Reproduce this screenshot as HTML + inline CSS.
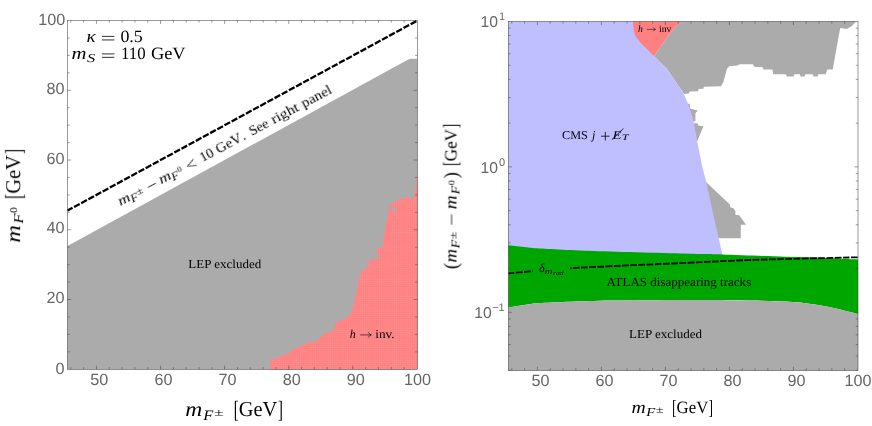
<!DOCTYPE html>
<html><head><meta charset="utf-8"><title>plot</title>
<style>html,body{margin:0;padding:0;background:#fff;}svg{display:block}</style></head>
<body>
<svg width="872" height="426" viewBox="0 0 872 426">
<defs>
<filter id="noaa" x="-5%" y="-5%" width="110%" height="110%"><feOffset dx="0" dy="0"/></filter>
<pattern id="hatch" width="2.13" height="2.13" patternUnits="userSpaceOnUse">
<rect width="2.13" height="2.13" fill="#ff8080"/>
<path d="M0,0H2.13M0,0V2.13" stroke="#ff9696" stroke-width="0.5"/>
</pattern>
</defs>
<rect width="872" height="426" fill="#fff"/>
<polygon fill="#ababab" points="67.5,246.1 408.2,59.4 410.5,58.8 417.3,58.8 417.3,369.3 67.5,369.3"/>
<polygon fill="url(#hatch)" points="270.1,369.3 270.1,359.8 274.4,358.6 278,358.1 282.8,355 288.7,353.8 294.7,348.6 301.9,345.4 307.9,342.3 315.1,341.9 324.7,333.5 334.3,329.9 335,323.9 340.2,320.3 347.4,317.9 352.2,310.7 354.6,301.1 357,289.2 358.5,282 358.7,278.5 362,270.1 364.1,270.8 366.6,268.7 366.9,265.8 371.1,259.5 379.9,258.8 376.1,250.6 383.1,246.1 383.8,236.3 385.2,228 387.3,219.3 389.4,205.2 390.1,204.2 399.5,199.7 402.7,198.3 407.9,196.8 412.1,200.1 414.3,197.6 415.3,189 416.3,180.6 417.3,176 417.3,369.3"/>
<polygon fill="#ababab" points="389.9,204.9 396.2,209 395.8,211.9 392,211"/>
<line x1="67.5" y1="210.6" x2="417.3" y2="20.6" stroke="#000" stroke-width="2.3" stroke-dasharray="6.45 1.7" stroke-dashoffset="0.7"/>
<rect x="67.5" y="20.5" width="349.8" height="348.8" fill="none" stroke="#3c3c3c" stroke-width="0.52"/>
<path d="M96.45,369.3v-3.6M96.45,20.5v3.6M160.55,369.3v-3.6M160.55,20.5v3.6M224.65,369.3v-3.6M224.65,20.5v3.6M288.75,369.3v-3.6M288.75,20.5v3.6M352.85,369.3v-3.6M352.85,20.5v3.6M70.81,369.3v-2.2M70.81,20.5v2.2M83.63,369.3v-2.2M83.63,20.5v2.2M109.27,369.3v-2.2M109.27,20.5v2.2M122.09,369.3v-2.2M122.09,20.5v2.2M134.91,369.3v-2.2M134.91,20.5v2.2M147.73,369.3v-2.2M147.73,20.5v2.2M173.37,369.3v-2.2M173.37,20.5v2.2M186.19,369.3v-2.2M186.19,20.5v2.2M199.01,369.3v-2.2M199.01,20.5v2.2M211.83,369.3v-2.2M211.83,20.5v2.2M237.47,369.3v-2.2M237.47,20.5v2.2M250.29,369.3v-2.2M250.29,20.5v2.2M263.11,369.3v-2.2M263.11,20.5v2.2M275.93,369.3v-2.2M275.93,20.5v2.2M301.57,369.3v-2.2M301.57,20.5v2.2M314.39,369.3v-2.2M314.39,20.5v2.2M327.21,369.3v-2.2M327.21,20.5v2.2M340.03,369.3v-2.2M340.03,20.5v2.2M365.67,369.3v-2.2M365.67,20.5v2.2M378.49,369.3v-2.2M378.49,20.5v2.2M391.31,369.3v-2.2M391.31,20.5v2.2M404.13,369.3v-2.2M404.13,20.5v2.2M67.5,299.54h3.6M417.3,299.54h-3.6M67.5,229.78h3.6M417.3,229.78h-3.6M67.5,160.02h3.6M417.3,160.02h-3.6M67.5,90.26h3.6M417.3,90.26h-3.6M67.5,351.86h2.2M417.3,351.86h-2.2M67.5,334.42h2.2M417.3,334.42h-2.2M67.5,316.98h2.2M417.3,316.98h-2.2M67.5,282.1h2.2M417.3,282.1h-2.2M67.5,264.66h2.2M417.3,264.66h-2.2M67.5,247.22h2.2M417.3,247.22h-2.2M67.5,212.34h2.2M417.3,212.34h-2.2M67.5,194.9h2.2M417.3,194.9h-2.2M67.5,177.46h2.2M417.3,177.46h-2.2M67.5,142.58h2.2M417.3,142.58h-2.2M67.5,125.14h2.2M417.3,125.14h-2.2M67.5,107.7h2.2M417.3,107.7h-2.2M67.5,72.82h2.2M417.3,72.82h-2.2M67.5,55.38h2.2M417.3,55.38h-2.2M67.5,37.94h2.2M417.3,37.94h-2.2" stroke="#3c3c3c" stroke-width="0.5" fill="none"/>
<g filter="url(#noaa)" style="text-rendering:geometricPrecision" font-family="Liberation Sans, sans-serif" font-size="16.2" fill="#666666">
<text x="99.35" y="385.4" text-anchor="middle">50</text>
<text x="163.45" y="385.4" text-anchor="middle">60</text>
<text x="227.55" y="385.4" text-anchor="middle">70</text>
<text x="291.65" y="385.4" text-anchor="middle">80</text>
<text x="355.75" y="385.4" text-anchor="middle">90</text>
<text x="417.5" y="385.4" text-anchor="middle">100</text>
<text x="64.6" y="373.7" text-anchor="end">0</text>
<text x="64.6" y="303.24" text-anchor="end">20</text>
<text x="64.6" y="233.48" text-anchor="end">40</text>
<text x="64.6" y="163.72" text-anchor="end">60</text>
<text x="64.6" y="93.96" text-anchor="end">80</text>
<text x="65.2" y="24.9" text-anchor="end">100</text>
</g>
<polygon fill="#ababab" points="681.2,21.5 674.3,27.9 666.9,37.7 660,47.6 654.1,56.3 667,69 676.4,83.1 684.1,94 688.8,93.5 689.7,91.4 698.2,91.2 698.5,89.1 703.4,88.8 703.8,86.8 721,86.3 723.4,82 726.9,69 729.2,66.2 737.5,65.5 739.8,64.3 752.9,64.3 754.6,67.1 762.3,67.1 763.5,69.5 772.4,69.5 773.3,74.2 785.8,74.2 787,76.5 793.5,76.5 794.5,74.2 799.9,74.2 800.6,76.5 804.6,76.5 805.3,74.2 812.8,74.2 813.5,76.5 817.5,76.5 818.2,74.2 825.7,74.2 827.3,69.5 832.7,69.5 840.2,27.9 846.8,29.1 851.5,26.3 856.2,21.5"/>
<polygon fill="#ababab" points="684,103.8 689.7,103.8 690.1,108.5 697.8,110.4 695.4,113.2 695.4,121.6 690,121"/>
<polygon fill="#ababab" points="692,123.1 697.8,123.5 698.2,125.4 703.4,126.3 697.2,141.3 692,141"/>
<polygon fill="#ababab" points="703,182.3 706.3,182.3 729.8,204.4 730.3,207.3 733.5,208.2 735.4,211 735.4,214.8 739.2,215.3 746.1,224.7 740.8,224.7 740.8,238.2 710,238.2"/>
<polygon fill="#ff8080" points="632,21.5 681.2,21.5 674.3,27.9 666.9,37.7 660,47.6 654.1,56.3 640,50 632,40"/>
<polygon fill="#bfbfff" points="508.4,21.5 633,21.5 633.5,29.1 635.3,35.7 640,42.2 646.6,48.8 654.1,56.3 667,69 676.4,83.1 684.1,94.4 688.8,105.7 693.5,120.7 697.2,141.3 701.9,165 706.4,182.8 713.6,215.7 718.5,237.3 722.3,254.4 722.3,262 508.4,262"/>
<path fill="#00a600" d="M508.4,245.2L535.2,248.3C545,248.77 568.2,250.18 594,251.1C619.8,252.02 668.62,253.25 690,253.8C711.38,254.35 708.3,253.98 722.3,254.4C736.3,254.82 757.55,255.75 774,256.3C790.45,256.85 807,257.18 821,257.7C835,258.22 851.83,259.12 858,259.4L858,314.1C853.78,313.05 840.83,309.53 832.7,307.8C824.57,306.07 817.03,304.73 809.2,303.7C801.37,302.67 795.48,302.13 785.7,301.6C775.92,301.07 766.45,300.75 750.5,300.5C734.55,300.25 716.08,300.03 690,300.1C663.92,300.17 619.8,300.38 594,300.9C568.2,301.42 545,302.82 535.2,303.2L508.4,307.5Z"/>
<path fill="#ababab" d="M858,314.1C853.78,313.05 840.83,309.53 832.7,307.8C824.57,306.07 817.03,304.73 809.2,303.7C801.37,302.67 795.48,302.13 785.7,301.6C775.92,301.07 766.45,300.75 750.5,300.5C734.55,300.25 716.08,300.03 690,300.1C663.92,300.17 619.8,300.38 594,300.9C568.2,301.42 545,302.82 535.2,303.2L508.4,307.5L508.4,370.4L858,370.4Z"/>
<path d="M508.4,273.3C512.08,272.98 519.97,272.27 530.5,271.4C541.03,270.53 545.02,269.55 571.6,268.1C598.18,266.65 660.18,264.05 690,262.7C719.82,261.35 722.5,260.9 750.5,260C778.5,259.1 840.08,257.75 858,257.3" fill="none" stroke="#000" stroke-width="1.8" stroke-dasharray="6.7 1.48" stroke-dashoffset="0.6"/>
<rect x="533" y="262" width="37" height="14" fill="#00a600"/>
<rect x="508.4" y="21.5" width="349.6" height="348.9" fill="none" stroke="#3c3c3c" stroke-width="0.52"/>
<path d="M537.4,370.4v-3.6M537.4,21.5v3.6M601.4,370.4v-3.6M601.4,21.5v3.6M665.4,370.4v-3.6M665.4,21.5v3.6M729.4,370.4v-3.6M729.4,21.5v3.6M793.4,370.4v-3.6M793.4,21.5v3.6M511.8,370.4v-2.2M511.8,21.5v2.2M524.6,370.4v-2.2M524.6,21.5v2.2M550.2,370.4v-2.2M550.2,21.5v2.2M563,370.4v-2.2M563,21.5v2.2M575.8,370.4v-2.2M575.8,21.5v2.2M588.6,370.4v-2.2M588.6,21.5v2.2M614.2,370.4v-2.2M614.2,21.5v2.2M627,370.4v-2.2M627,21.5v2.2M639.8,370.4v-2.2M639.8,21.5v2.2M652.6,370.4v-2.2M652.6,21.5v2.2M678.2,370.4v-2.2M678.2,21.5v2.2M691,370.4v-2.2M691,21.5v2.2M703.8,370.4v-2.2M703.8,21.5v2.2M716.6,370.4v-2.2M716.6,21.5v2.2M742.2,370.4v-2.2M742.2,21.5v2.2M755,370.4v-2.2M755,21.5v2.2M767.8,370.4v-2.2M767.8,21.5v2.2M780.6,370.4v-2.2M780.6,21.5v2.2M806.2,370.4v-2.2M806.2,21.5v2.2M819,370.4v-2.2M819,21.5v2.2M831.8,370.4v-2.2M831.8,21.5v2.2M844.6,370.4v-2.2M844.6,21.5v2.2M508.4,166.9h3.6M858.0,166.9h-3.6M508.4,312.3h3.6M858.0,312.3h-3.6M508.4,123.13h2.2M858.0,123.13h-2.2M508.4,97.53h2.2M858.0,97.53h-2.2M508.4,79.36h2.2M858.0,79.36h-2.2M508.4,65.27h2.2M858.0,65.27h-2.2M508.4,53.76h2.2M858.0,53.76h-2.2M508.4,44.02h2.2M858.0,44.02h-2.2M508.4,35.59h2.2M858.0,35.59h-2.2M508.4,28.15h2.2M858.0,28.15h-2.2M508.4,268.53h2.2M858.0,268.53h-2.2M508.4,242.93h2.2M858.0,242.93h-2.2M508.4,224.76h2.2M858.0,224.76h-2.2M508.4,210.67h2.2M858.0,210.67h-2.2M508.4,199.16h2.2M858.0,199.16h-2.2M508.4,189.42h2.2M858.0,189.42h-2.2M508.4,180.99h2.2M858.0,180.99h-2.2M508.4,173.55h2.2M858.0,173.55h-2.2M508.4,370.16h2.2M858.0,370.16h-2.2M508.4,356.07h2.2M858.0,356.07h-2.2M508.4,344.56h2.2M858.0,344.56h-2.2M508.4,334.82h2.2M858.0,334.82h-2.2M508.4,326.39h2.2M858.0,326.39h-2.2M508.4,318.95h2.2M858.0,318.95h-2.2" stroke="#3c3c3c" stroke-width="0.5" fill="none"/>
<g filter="url(#noaa)" style="text-rendering:geometricPrecision" font-family="Liberation Sans, sans-serif" font-size="16.2" fill="#666666">
<text x="540.4" y="386.2" text-anchor="middle">50</text>
<text x="604.4" y="386.2" text-anchor="middle">60</text>
<text x="668.4" y="386.2" text-anchor="middle">70</text>
<text x="732.4" y="386.2" text-anchor="middle">80</text>
<text x="796.4" y="386.2" text-anchor="middle">90</text>
<text x="857.9" y="386.2" text-anchor="middle">100</text>
<text x="480.6" y="26.8" font-size="15.7">10<tspan font-size="11" dy="-7" dx="0.9">1</tspan></text>
<text x="480.6" y="172.6" font-size="15.7">10<tspan font-size="11" dy="-6.7" dx="0.9">0</tspan></text>
<text x="474.2" y="318" font-size="15.7">10<tspan font-size="11" dy="-6.7" dx="0.5">−1</tspan></text>
</g>
<g filter="url(#noaa)" style="text-rendering:geometricPrecision" font-family="Liberation Serif, serif" fill="#000">
<!-- kappa label -->
<text x="86.6" y="42.1" font-size="17.3" font-style="italic" textLength="9.2" lengthAdjust="spacingAndGlyphs">κ</text>
<path d="M101.9,36.4H114.4M101.9,39.95H114.4M101.9,53.9H114.4M101.9,57.35H114.4" stroke="#000" stroke-width="0.8"/>
<text x="120.4" y="42.1" font-size="17.3" textLength="22.4" lengthAdjust="spacingAndGlyphs">0.5</text>
<text x="71.4" y="59.3" font-size="17.3" font-style="italic" textLength="15" lengthAdjust="spacingAndGlyphs">m</text>
<text x="86.9" y="62" font-size="12.1" font-style="italic" textLength="8.2" lengthAdjust="spacingAndGlyphs">S</text>
<text x="121" y="59.3" font-size="17.3" textLength="24.6" lengthAdjust="spacingAndGlyphs">110</text>
<text x="150.9" y="59.3" font-size="17.3" textLength="34.8" lengthAdjust="spacingAndGlyphs">GeV</text>

<!-- rotated label -->
<g transform="translate(118.3,207.2) rotate(-28.1)">
<text x="2.4" y="0" font-size="14" font-style="italic" textLength="12.4" lengthAdjust="spacingAndGlyphs">m</text>
<text x="14.8" y="2.5" font-size="11.4" font-style="italic" textLength="7.8" lengthAdjust="spacingAndGlyphs">F</text>
<text x="23" y="-0.9" font-size="9.6" textLength="6.6" lengthAdjust="spacingAndGlyphs">±</text>
<path d="M35.4,-3.5H44.4" stroke="#000" stroke-width="0.75"/>
<text x="48.7" y="0" font-size="14" font-style="italic" textLength="12.4" lengthAdjust="spacingAndGlyphs">m</text>
<text x="61.1" y="2.5" font-size="11.4" font-style="italic" textLength="7.8" lengthAdjust="spacingAndGlyphs">F</text>
<text x="69.4" y="-1.9" font-size="8.4" textLength="4.3" lengthAdjust="spacingAndGlyphs">0</text>
<path d="M89,-7.1L80.2,-3.5L89,0.1" stroke="#000" stroke-width="0.75" fill="none"/>
<text x="95.4" y="0" font-size="14" textLength="14" lengthAdjust="spacingAndGlyphs">10</text>
<text x="113.6" y="0" font-size="14" textLength="27.7" lengthAdjust="spacingAndGlyphs">GeV</text>
<text x="141.9" y="0" font-size="14">.</text>
<text x="151.4" y="0" font-size="14" textLength="20.2" lengthAdjust="spacingAndGlyphs">See</text>
<text x="176.3" y="0" font-size="14" textLength="29.6" lengthAdjust="spacingAndGlyphs">right</text>
<text x="210.6" y="0" font-size="14" textLength="32.7" lengthAdjust="spacingAndGlyphs">panel</text>
</g>

<text x="188.3" y="267.8" font-size="12.3" textLength="72.9" lengthAdjust="spacingAndGlyphs">LEP excluded</text>

<!-- h -> inv. left -->
<text x="349.8" y="338.2" font-size="12" font-style="italic">h</text>
<path d="M360.2,334.9H371.1M368.3,332.3Q369.3,334.3 371.4,334.9Q369.3,335.5 368.3,337.5" stroke="#000" stroke-width="0.6" fill="none"/>
<text x="375.3" y="338.2" font-size="12" textLength="19.4" lengthAdjust="spacingAndGlyphs">inv.</text>

<!-- x title left -->
<text x="185.2" y="415.9" font-size="20.7" font-style="italic" textLength="17" lengthAdjust="spacingAndGlyphs">m</text>
<text x="203.3" y="419.6" font-size="14.5" font-style="italic" textLength="10" lengthAdjust="spacingAndGlyphs">F</text>
<text x="214.3" y="416.2" font-size="10.5" textLength="9.2" lengthAdjust="spacingAndGlyphs">±</text>
<path d="M235.4,400.9V420.6M281.2,400.9V420.6" stroke="#000" stroke-width="1.15" fill="none"/><path d="M235,401.2H238M235,420.3H238M278.6,401.2H281.6M278.6,420.3H281.6" stroke="#000" stroke-width="0.7" fill="none"/>
<text x="238.8" y="415.9" font-size="21.3" textLength="38.5" lengthAdjust="spacingAndGlyphs">GeV</text>

<!-- y title left -->
<g transform="translate(20.1,242.2) rotate(-90)">
<text x="-0.6" y="0" font-size="20.7" font-style="italic" textLength="17.6" lengthAdjust="spacingAndGlyphs">m</text>
<text x="18.4" y="3.2" font-size="13.8" font-style="italic" textLength="10.2" lengthAdjust="spacingAndGlyphs">F</text>
<text x="29.3" y="-2.7" font-size="10.4" textLength="5.7" lengthAdjust="spacingAndGlyphs">0</text>
<path d="M45,-15V4.7M91.5,-15V4.7" stroke="#000" stroke-width="1.15" fill="none"/><path d="M44.6,-14.7H47.6M44.6,4.4H47.6M88.9,-14.7H91.9M88.9,4.4H91.9" stroke="#000" stroke-width="0.7" fill="none"/>
<text x="48.6" y="0" font-size="21.3" textLength="38.5" lengthAdjust="spacingAndGlyphs">GeV</text>
</g>

<!-- RIGHT PANEL TEXT -->
<text x="562" y="138.5" font-size="12" textLength="25.8" lengthAdjust="spacingAndGlyphs">CMS</text>
<text x="591.9" y="138.5" font-size="12" font-style="italic">j</text>
<path d="M601,136.2H609.6M605.3,131.9V140.5" stroke="#000" stroke-width="0.8"/>
<text x="612.6" y="138.5" font-size="12" font-style="italic" textLength="9" lengthAdjust="spacingAndGlyphs">E</text>
<path d="M611.9,139.7L623.4,128.5" stroke="#000" stroke-width="0.8"/>
<text x="621.7" y="140.3" font-size="8.4" font-style="italic" textLength="6.9" lengthAdjust="spacingAndGlyphs">T</text>

<text x="638.1" y="31.9" font-size="9.6" font-style="italic">h</text>
<path d="M646.8,29.4H655.3M653.2,27.4Q654,28.9 655.6,29.4Q654,29.9 653.2,31.4" stroke="#000" stroke-width="0.5" fill="none"/>
<text x="659" y="31.9" font-size="9.6" textLength="12.5" lengthAdjust="spacingAndGlyphs">inv</text>

<text x="539" y="271.6" font-size="12" font-style="italic">δ</text>
<text x="544.4" y="273.6" font-size="8.4" font-style="italic" textLength="8" lengthAdjust="spacingAndGlyphs">m</text>
<text x="552.9" y="275.2" font-size="6" font-style="italic" textLength="10.8" lengthAdjust="spacingAndGlyphs">rad</text>

<text x="606.6" y="285.9" font-size="12.4" textLength="144.6" lengthAdjust="spacingAndGlyphs">ATLAS disappearing tracks</text>
<text x="629.1" y="338.3" font-size="12.3" textLength="72.9" lengthAdjust="spacingAndGlyphs">LEP excluded</text>

<!-- x title right -->
<text x="631.5" y="412.7" font-size="17.3" font-style="italic" textLength="14.2" lengthAdjust="spacingAndGlyphs">m</text>
<text x="646.3" y="415.6" font-size="12.1" font-style="italic" textLength="9" lengthAdjust="spacingAndGlyphs">F</text>
<text x="656" y="413" font-size="9.6" textLength="7.6" lengthAdjust="spacingAndGlyphs">±</text>
<path d="M673.6,400.2V416.8M711.5,400.2V416.8" stroke="#000" stroke-width="1" fill="none"/><path d="M673.2,400.5H675.8M673.2,416.5H675.8M709.3,400.5H711.9M709.3,416.5H711.9" stroke="#000" stroke-width="0.65" fill="none"/>
<text x="676.6" y="412.7" font-size="17.3" textLength="31.7" lengthAdjust="spacingAndGlyphs">GeV</text>

<!-- y title right -->
<g transform="translate(456.5,268.8) rotate(-90)">
<text x="-0.3" y="1" font-size="20" textLength="6.2" lengthAdjust="spacingAndGlyphs">(</text>
<text x="6.3" y="0" font-size="17.3" font-style="italic" textLength="13.6" lengthAdjust="spacingAndGlyphs">m</text>
<text x="20.4" y="2.6" font-size="12.1" font-style="italic" textLength="8.6" lengthAdjust="spacingAndGlyphs">F</text>
<text x="29.6" y="0.1" font-size="9.6" textLength="7.6" lengthAdjust="spacingAndGlyphs">±</text>
<path d="M44.1,-4.9H54.4" stroke="#000" stroke-width="0.75"/>
<text x="59.6" y="0" font-size="17.3" font-style="italic" textLength="14" lengthAdjust="spacingAndGlyphs">m</text>
<text x="74.4" y="2.6" font-size="12.1" font-style="italic" textLength="8.6" lengthAdjust="spacingAndGlyphs">F</text>
<text x="83.8" y="-2.3" font-size="9.2" textLength="4.9" lengthAdjust="spacingAndGlyphs">0</text>
<text x="90.6" y="1" font-size="20" textLength="6.2" lengthAdjust="spacingAndGlyphs">)</text>
<path d="M104.4,-13.3V3.7M143.5,-13.3V3.7" stroke="#000" stroke-width="1" fill="none"/><path d="M104,-13H106.6M104,3.4H106.6M141.3,-13H143.9M141.3,3.4H143.9" stroke="#000" stroke-width="0.65" fill="none"/>
<text x="107.6" y="0" font-size="17.3" textLength="32.4" lengthAdjust="spacingAndGlyphs">GeV</text>
</g>
</g>

</svg>
</body></html>
